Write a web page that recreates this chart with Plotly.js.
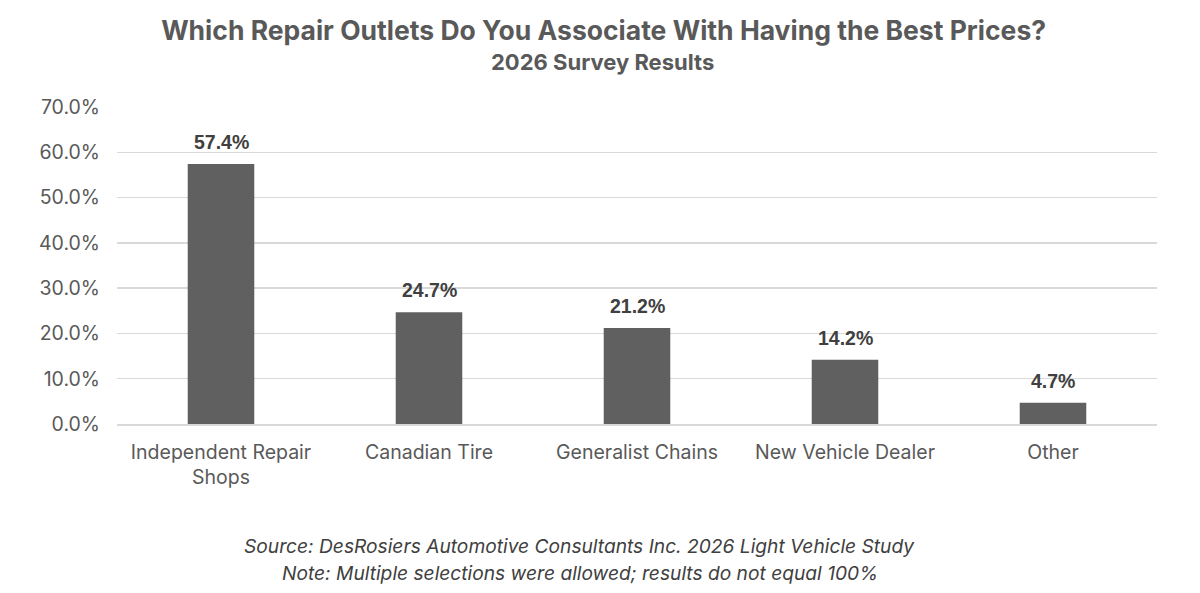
<!DOCTYPE html>
<html><head><meta charset="utf-8">
<script src="https://cdn.plot.ly/plotly-3.0.1.min.js"></script>
<style>html,body{margin:0;padding:0;background:#fff}#chart{width:1200px;height:593px}</style>
</head><body><div id="chart"></div>
<script>
const categories = ["Independent Repair<br>Shops", "Canadian Tire", "Generalist Chains", "New Vehicle Dealer", "Other"];
const values = [57.4, 24.7, 21.2, 14.2, 4.7];
const valueLabels = ["57.4%", "24.7%", "21.2%", "14.2%", "4.7%"];
const yTicks = [0, 10, 20, 30, 40, 50, 60, 70];
const yTickLabels = ["0.0%", "10.0%", "20.0%", "30.0%", "40.0%", "50.0%", "60.0%", "70.0%"];
const titleText = "Which Repair Outlets Do You Associate With Having the Best Prices?";
const subtitleText = "2026 Survey Results";
const footnotes = ["Source: DesRosiers Automotive Consultants Inc. 2026 Light Vehicle Study", "Note: Multiple selections were allowed; results do not equal 100%"];

const FONT = "Inter, 'Open Sans', sans-serif";
const annotations = categories.map((c, i) => ({
  x: c, y: values[i], xref: 'x', yref: 'y', text: '<b>' + valueLabels[i] + '</b>',
  showarrow: false, yanchor: 'bottom', yshift: 9,
  font: {family: "'Liberation Sans', Arial, sans-serif", size: 19.5, color: '#404040'}
}));
footnotes.forEach((t, i) => annotations.push({
  xref: 'paper', yref: 'paper', x: 0.445, y: 0, xanchor: 'center', yanchor: 'middle',
  yshift: -122 - i * 27, text: '<i>' + t + '</i>', showarrow: false,
  font: {family: FONT, size: 19.2, color: '#404040'}
}));
annotations.push({xref: 'paper', yref: 'paper', x: 0.467, y: 1, yshift: 45, xanchor: 'center', yanchor: 'middle',
  text: '<b>' + subtitleText + '</b>', showarrow: false, font: {family: FONT, size: 22, color: '#595959'}});

const trace = {
  type: 'bar', x: categories, y: values,
  marker: {color: '#606060'}, hoverinfo: 'skip'
};
const layout = {
  width: 1200, height: 593,
  margin: {l: 117, r: 43, t: 107, b: 169},
  paper_bgcolor: '#ffffff', plot_bgcolor: '#ffffff',
  title: {text: '<b>' + titleText + '</b>', x: 0.503, xanchor: 'center', y: 0.948, yanchor: 'middle',
    font: {family: FONT, size: 26.5, color: '#595959'}},
  bargap: 0.68,
  showlegend: false,
  xaxis: {tickfont: {family: FONT, size: 19.5, color: '#595959'}, showline: true, linecolor: '#d9d9d9', linewidth: 1.5,
    ticks: '', ticklabelstandoff: 10, fixedrange: true},
  yaxis: {range: [0, 70], tickvals: yTicks, ticktext: yTickLabels, showgrid: true, gridcolor: '#d9d9d9', gridwidth: 1.5,
    zeroline: false, tickfont: {family: FONT, size: 19.5, color: '#595959'}, ticklabelstandoff: 16, fixedrange: true},
  annotations: annotations
};
Plotly.newPlot('chart', [trace], layout, {displayModeBar: false, staticPlot: true});
</script></body></html>
